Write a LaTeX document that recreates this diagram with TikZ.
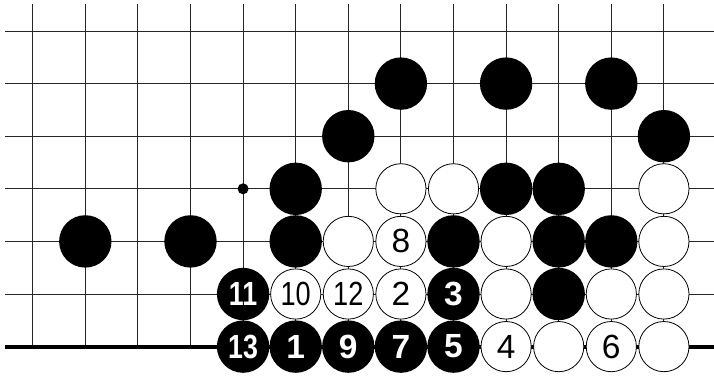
\documentclass[tikz,border=0pt]{standalone}
\usepackage{fontspec}
\setmainfont{Liberation Sans}
\begin{document}
\begin{tikzpicture}[x=1pt,y=-1pt,
  gridline/.style={line width=0.9pt, black!85},
  edgeline/.style={line width=4pt, black},
  bstone/.style={circle, fill=black, minimum size=52.4pt, inner sep=0pt, text=white, font=\fontsize{33.5}{33.5}\selectfont\bfseries},
  wstone/.style={circle, draw=black, fill=white, line width=0.8pt, minimum size=50.2pt, inner sep=0pt, text=black, font=\fontsize{33.5}{33.5}\selectfont},
  hoshi/.style={circle, fill=black, minimum size=11pt, inner sep=0pt}]
\useasboundingbox (0,0) rectangle (714,376);
\fill[white] (0,0) rectangle (714,376);
% grid
\foreach \r in {0,...,5}
  \draw[gridline] (5,{31+52.6*\r}) -- (714,{31+52.6*\r});
\foreach \c in {0,...,12}
  \draw[gridline] ({32.7+52.6*\c},4) -- ({32.7+52.6*\c},346.6);
\draw[edgeline] (5,346.6) -- (714,346.6);
\node[hoshi] (star) at ({32.7+52.6*4},{31+52.6*3}) {};
% black stones (unnumbered)
\foreach \c/\r in {7/1,9/1,11/1,6/2,12/2,5/3,9/3,10/3,1/4,3/4,5/4,8/4,10/4,11/4,10/5}
  \node[bstone] (b-\c-\r) at ({32.7+52.6*\c},{31+52.6*\r}) {};
% white stones (unnumbered)
\foreach \c/\r in {7/3,8/3,12/3,6/4,9/4,12/4,9/5,11/5,12/5,10/6,12/6}
  \node[wstone] (w-\c-\r) at ({32.7+52.6*\c},{31+52.6*\r}) {};
% numbered black stones
\node[bstone] (m11) at ({32.7+52.6*4},{31+52.6*5}) {\scalebox{0.8}[1]{11}};
\node[bstone] (m3) at ({32.7+52.6*8},{31+52.6*5}) {3};
\node[bstone] (m13) at ({32.7+52.6*4},{31+52.6*6}) {\scalebox{0.8}[1]{13}};
\node[bstone] (m1) at ({32.7+52.6*5},{31+52.6*6}) {1};
\node[bstone] (m9) at ({32.7+52.6*6},{31+52.6*6}) {9};
\node[bstone] (m7) at ({32.7+52.6*7},{31+52.6*6}) {7};
\node[bstone] (m5) at ({32.7+52.6*8},{31+52.6*6}) {5};
% numbered white stones
\node[wstone] (m8) at ({32.7+52.6*7},{31+52.6*4}) {8};
\node[wstone] (m10) at ({32.7+52.6*5},{31+52.6*5}) {\scalebox{0.81}[1]{10}};
\node[wstone] (m12) at ({32.7+52.6*6},{31+52.6*5}) {\scalebox{0.81}[1]{12}};
\node[wstone] (m2) at ({32.7+52.6*7},{31+52.6*5}) {2};
\node[wstone] (m4) at ({32.7+52.6*9},{31+52.6*6}) {4};
\node[wstone] (m6) at ({32.7+52.6*11},{31+52.6*6}) {6};
\end{tikzpicture}
\end{document}
